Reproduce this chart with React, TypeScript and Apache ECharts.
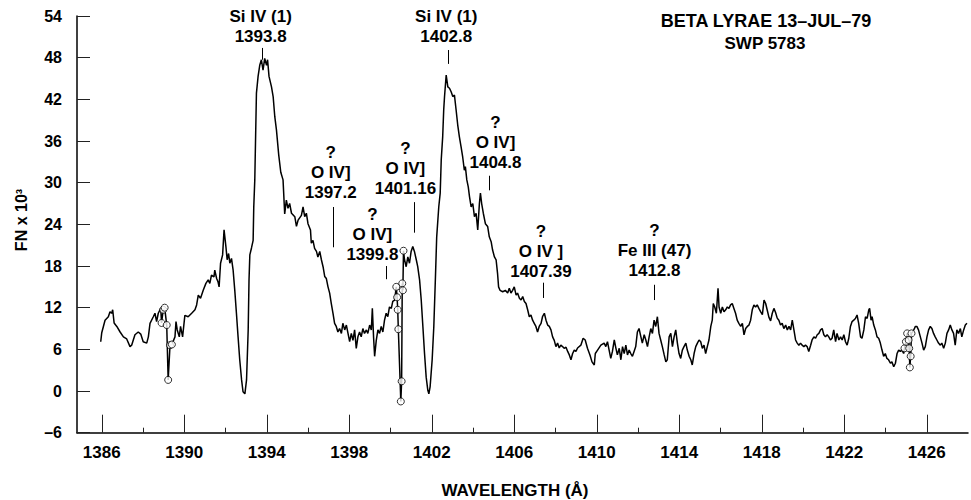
import React, { useEffect, useRef } from "react";
import * as echarts from "echarts";

// Wavelength (Å) and flux (FN x 10^3)
const wavelength = [
  1385.95, 1386.0, 1386.16, 1386.32, 1386.4, 1386.48, 1386.53, 1386.6, 1386.73, 1386.89,
  1387.05, 1387.21, 1387.37, 1387.45, 1387.61, 1387.77, 1387.89, 1388.01, 1388.18, 1388.26,
  1388.34, 1388.5, 1388.58, 1388.66, 1388.74, 1388.86, 1388.9, 1388.98, 1389.05, 1389.15,
  1389.22, 1389.31, 1389.4, 1389.55, 1389.6, 1389.66, 1389.76, 1389.82, 1389.92, 1390.03,
  1390.19, 1390.36, 1390.52, 1390.6, 1390.68, 1390.79, 1390.92, 1391.05, 1391.16, 1391.24,
  1391.32, 1391.44, 1391.48, 1391.57, 1391.64, 1391.69, 1391.76, 1391.86, 1391.93, 1392.02,
  1392.08, 1392.15, 1392.21, 1392.29, 1392.37, 1392.45, 1392.53, 1392.61, 1392.69, 1392.78,
  1392.85, 1392.94, 1393.02, 1393.1, 1393.14, 1393.18, 1393.26, 1393.34, 1393.37, 1393.42,
  1393.5, 1393.58, 1393.66, 1393.74, 1393.82, 1393.9, 1393.99, 1394.04, 1394.11, 1394.23,
  1394.31, 1394.39, 1394.47, 1394.58, 1394.68, 1394.79, 1394.87, 1394.95, 1395.03, 1395.11,
  1395.2, 1395.36, 1395.44, 1395.52, 1395.68, 1395.76, 1395.84, 1395.92, 1396.0, 1396.12,
  1396.16, 1396.24, 1396.32, 1396.41, 1396.48, 1396.57, 1396.65, 1396.73, 1396.81, 1396.89,
  1396.97, 1397.05, 1397.13, 1397.21, 1397.29, 1397.37, 1397.45, 1397.53, 1397.62, 1397.69,
  1397.78, 1397.86, 1397.94, 1398.02, 1398.1, 1398.18, 1398.26, 1398.34, 1398.42, 1398.5,
  1398.58, 1398.66, 1398.74, 1398.83, 1398.9, 1398.99, 1399.07, 1399.12, 1399.18, 1399.23,
  1399.31, 1399.39, 1399.47, 1399.55, 1399.63, 1399.71, 1399.79, 1399.87, 1399.95, 1400.04,
  1400.11, 1400.2, 1400.28, 1400.32, 1400.35, 1400.38, 1400.5, 1400.54, 1400.57, 1400.6,
  1400.63, 1400.68, 1400.76, 1400.84, 1400.92, 1401.0, 1401.08, 1401.16, 1401.25, 1401.32,
  1401.41, 1401.49, 1401.57, 1401.65, 1401.73, 1401.81, 1401.86, 1401.92, 1402.02, 1402.1,
  1402.18, 1402.24, 1402.34, 1402.41, 1402.46, 1402.53, 1402.58, 1402.62, 1402.7, 1402.78,
  1402.86, 1402.94, 1403.02, 1403.1, 1403.18, 1403.26, 1403.34, 1403.42, 1403.5, 1403.58,
  1403.63, 1403.7, 1403.77, 1403.83, 1403.91, 1403.99, 1404.07, 1404.15, 1404.23, 1404.31,
  1404.36, 1404.42, 1404.5, 1404.6, 1404.71, 1404.79, 1404.88, 1404.95, 1405.04, 1405.12,
  1405.19, 1405.24, 1405.31, 1405.44, 1405.57, 1405.68, 1405.76, 1405.84, 1405.92, 1406.0,
  1406.09, 1406.16, 1406.25, 1406.33, 1406.41, 1406.49, 1406.57, 1406.65, 1406.73, 1406.81,
  1406.89, 1406.97, 1407.05, 1407.13, 1407.21, 1407.3, 1407.37, 1407.46, 1407.54, 1407.62,
  1407.7, 1407.78, 1407.86, 1407.94, 1408.02, 1408.1, 1408.18, 1408.26, 1408.34, 1408.42,
  1408.51, 1408.59, 1408.67, 1408.75, 1408.83, 1408.91, 1408.99, 1409.07, 1409.23, 1409.34,
  1409.44, 1409.55, 1409.67, 1409.77, 1409.88, 1409.93, 1410.04, 1410.2, 1410.36, 1410.44,
  1410.52, 1410.6, 1410.68, 1410.76, 1410.85, 1410.93, 1411.0, 1411.09, 1411.17, 1411.25,
  1411.33, 1411.41, 1411.49, 1411.57, 1411.65, 1411.73, 1411.81, 1411.89, 1411.97, 1412.05,
  1412.14, 1412.21, 1412.3, 1412.38, 1412.46, 1412.54, 1412.62, 1412.7, 1412.78, 1412.86,
  1412.94, 1413.02, 1413.1, 1413.18, 1413.27, 1413.35, 1413.42, 1413.51, 1413.59, 1413.67,
  1413.75, 1413.83, 1413.91, 1413.99, 1414.07, 1414.15, 1414.23, 1414.32, 1414.39, 1414.48,
  1414.56, 1414.63, 1414.72, 1414.8, 1414.88, 1414.96, 1415.04, 1415.12, 1415.2, 1415.28,
  1415.36, 1415.44, 1415.53, 1415.6, 1415.65, 1415.72, 1415.8, 1415.88, 1415.93, 1416.01,
  1416.09, 1416.17, 1416.25, 1416.33, 1416.41, 1416.49, 1416.57, 1416.65, 1416.73, 1416.81,
  1416.89, 1416.98, 1417.06, 1417.14, 1417.22, 1417.3, 1417.38, 1417.46, 1417.54, 1417.62,
  1417.7, 1417.78, 1417.86, 1417.95, 1418.03, 1418.11, 1418.19, 1418.27, 1418.35, 1418.43,
  1418.51, 1418.59, 1418.67, 1418.75, 1418.83, 1418.91, 1418.99, 1419.07, 1419.16, 1419.24,
  1419.32, 1419.4, 1419.48, 1419.56, 1419.64, 1419.72, 1419.8, 1419.88, 1419.96, 1420.04,
  1420.12, 1420.2, 1420.28, 1420.37, 1420.44, 1420.53, 1420.61, 1420.69, 1420.77, 1420.85,
  1420.93, 1421.01, 1421.09, 1421.17, 1421.25, 1421.33, 1421.41, 1421.49, 1421.58, 1421.65,
  1421.74, 1421.82, 1421.9, 1421.98, 1422.06, 1422.14, 1422.22, 1422.3, 1422.38, 1422.46,
  1422.54, 1422.62, 1422.7, 1422.79, 1422.86, 1422.95, 1423.03, 1423.11, 1423.19, 1423.23,
  1423.3, 1423.35, 1423.43, 1423.51, 1423.59, 1423.67, 1423.75, 1423.83, 1423.91, 1423.99,
  1424.07, 1424.15, 1424.24, 1424.31, 1424.4, 1424.48, 1424.56, 1424.64, 1424.72, 1424.8,
  1424.88, 1424.92, 1424.99, 1425.05, 1425.12, 1425.15, 1425.18, 1425.22, 1425.26, 1425.34,
  1425.45, 1425.52, 1425.6, 1425.69, 1425.77, 1425.85, 1425.93, 1426.01, 1426.09, 1426.17,
  1426.25, 1426.33, 1426.41, 1426.49, 1426.57, 1426.66, 1426.73, 1426.82, 1426.9, 1426.98,
  1427.06, 1427.14, 1427.22, 1427.3, 1427.38, 1427.46, 1427.54, 1427.63, 1427.7, 1427.79,
  1427.87, 1427.95,
];

const flux = [
  7.1, 8.4, 10.2, 10.7, 11.4, 11.2, 11.7, 9.8, 9.3, 8.5,
  7.8, 7.5, 6.4, 6.6, 8.1, 8.5, 8.2, 7.1, 6.9, 7.8,
  9.75, 10.7, 11.2, 10.0, 11.2, 11.9, 9.8, 11.7, 12.0, 9.5,
  1.6, 6.6, 6.7, 7.8, 10.0, 8.8, 7.8, 9.3, 7.8, 10.9,
  10.7, 11.2, 11.7, 12.4, 13.8, 13.35, 14.5, 15.5, 16.0, 15.5,
  16.7, 16.45, 17.4, 16.2, 15.7, 15.0, 18.4, 19.6, 23.2, 20.8,
  18.9, 19.8, 18.4, 19.1, 17.4, 14.5, 11.2, 7.8, 4.5, 1.6,
  -0.1, -0.4, 1.6, 8.8, 16.0, 19.6, 20.6, 21.7, 26.5, 30.4,
  42.9, 45.3, 46.9, 47.7, 46.2, 47.9, 46.9, 47.7, 45.3, 43.8,
  42.4, 39.5, 37.6, 34.0, 31.5, 30.4, 25.5, 27.5, 26.3, 27.0,
  25.6, 25.1, 23.7, 24.6, 25.3, 26.5, 25.1, 25.6, 24.1, 23.2,
  21.3, 21.7, 20.55, 20.1, 19.3, 20.1, 18.9, 17.9, 16.5, 16.2,
  15.0, 14.1, 12.6, 11.2, 9.75, 9.3, 8.5, 9.0, 8.3, 9.75,
  8.8, 9.5, 8.3, 7.1, 8.3, 7.3, 8.8, 6.15, 7.8, 8.5,
  7.8, 9.0, 8.3, 8.8, 8.3, 9.5, 8.8, 11.9, 7.7, 5.0,
  7.3, 8.8, 8.3, 9.3, 8.5, 10.2, 11.2, 10.7, 12.1, 11.9,
  12.9, 13.1, 15.0, 13.5, 11.7, 8.9, -1.5, 1.4, 15.5, 14.5,
  20.2, 18.9, 17.9, 19.3, 18.4, 20.1, 20.8, 20.1, 18.9, 17.9,
  16.0, 13.1, 9.3, 5.4, 2.0, 0.1, -0.4, 0.6, 4.5, 9.3,
  16.5, 22.2, 26.5, 28.5, 33.3, 36.6, 40.5, 42.4, 45.5, 43.8,
  43.6, 43.1, 42.4, 42.6, 40.5, 38.3, 36.6, 35.2, 33.7, 31.8,
  32.3, 30.4, 29.4, 28.0, 26.5, 27.0, 25.1, 25.6, 23.2, 27.0,
  28.5, 27.0, 25.6, 24.1, 23.7, 22.2, 21.5, 20.3, 19.3, 18.9,
  16.95, 15.0, 14.5, 14.3, 14.5, 14.1, 14.8, 14.1, 14.5, 15.0,
  13.8, 14.1, 13.35, 13.1, 13.6, 12.9, 12.6, 11.7, 10.7, 10.95,
  10.2, 9.75, 9.3, 8.5, 9.3, 9.75, 10.7, 11.2, 10.2, 9.5,
  9.3, 8.8, 7.8, 7.3, 6.4, 6.9, 6.2, 6.6, 6.4, 6.15,
  6.3, 5.7, 5.2, 4.5, 5.4, 5.9, 5.7, 6.2, 6.6, 7.6,
  7.35, 6.15, 5.2, 4.2, 3.75, 5.4, 5.9, 6.6, 6.9, 6.4,
  7.1, 5.9, 4.7, 5.7, 7.35, 6.15, 5.2, 6.15, 4.5, 6.4,
  5.4, 6.6, 5.2, 5.9, 5.4, 5.0, 5.7, 6.4, 8.5, 9.0,
  7.8, 6.9, 8.1, 7.35, 6.4, 7.8, 9.0, 8.3, 10.2, 9.3,
  10.7, 8.3, 7.35, 6.4, 5.2, 4.2, 4.5, 7.8, 8.3, 6.4,
  7.8, 8.8, 6.9, 5.4, 4.7, 5.9, 6.4, 6.9, 5.9, 5.0,
  4.5, 3.75, 5.4, 6.4, 6.9, 7.35, 7.1, 6.15, 6.6, 5.4,
  6.4, 7.35, 9.3, 10.2, 12.6, 12.1, 11.2, 14.8, 12.1, 11.2,
  12.1, 11.4, 11.7, 12.1, 11.9, 12.4, 12.6, 11.9, 11.2, 10.2,
  9.75, 9.3, 9.75, 8.1, 9.0, 9.3, 9.5, 10.2, 11.7, 12.4,
  12.1, 12.4, 11.9, 11.4, 11.0, 13.1, 12.6, 11.6, 10.6, 10.1,
  11.2, 11.9, 11.3, 10.5, 10.2, 9.5, 9.75, 9.0, 9.5, 8.8,
  9.3, 8.8, 10.2, 8.8, 7.35, 6.9, 6.6, 6.9, 6.6, 6.4,
  6.6, 6.4, 5.7, 6.6, 7.35, 7.8, 7.6, 8.1, 8.3, 8.8,
  9.0, 8.1, 7.8, 8.1, 7.8, 7.35, 7.6, 8.8, 7.1, 8.3,
  7.35, 7.8, 7.35, 8.1, 7.1, 6.6, 7.6, 9.3, 10.0, 10.2,
  10.45, 10.95, 9.75, 7.8, 7.6, 8.8, 10.7, 10.45, 11.7, 11.9,
  10.2, 10.7, 9.5, 8.8, 7.8, 7.6, 6.9, 5.9, 5.0, 5.4,
  4.7, 4.5, 4.0, 4.2, 3.5, 4.0, 5.4, 5.9, 5.7, 5.9,
  5.4, 6.15, 7.1, 8.3, 7.35, 6.15, 3.4, 5.0, 8.3, 8.6,
  9.3, 9.3, 8.8, 7.8, 6.9, 5.9, 6.4, 7.8, 8.8, 9.3,
  9.0, 8.3, 7.8, 7.35, 6.9, 6.6, 6.9, 6.15, 6.9, 8.3,
  8.8, 9.5, 8.8, 8.3, 6.6, 8.8, 8.3, 9.0, 7.8, 8.8,
  9.5, 9.75,
];

// Points marked with open circles in the reference
const flaggedWavelength = [
  1388.9, 1388.98, 1389.05, 1389.15, 1389.22, 1389.31, 1389.4,
  1400.28, 1400.32, 1400.35, 1400.38, 1400.5, 1400.54, 1400.57, 1400.6, 1400.63,
  1424.92, 1424.99, 1425.05, 1425.12, 1425.15, 1425.18, 1425.22, 1425.26,
];

// Line identifications
const lineIdWavelength = [1393.8, 1402.8, 1397.2, 1401.16, 1399.8, 1404.8, 1407.39, 1412.8];
const lineIdText = [
  ["Si IV (1)", "1393.8"],
  ["Si IV (1)", "1402.8"],
  ["?", "O IV]", "1397.2"],
  ["?", "O IV]", "1401.16"],
  ["?", "O IV]", "1399.8"],
  ["?", "O IV]", "1404.8"],
  ["?", "O IV ]", "1407.39"],
  ["?", "Fe III (47)", "1412.8"],
];

const xMajorTicks = [1386, 1390, 1394, 1398, 1402, 1406, 1410, 1414, 1418, 1422, 1426];
const xMinorTicks = [1388, 1392, 1396, 1400, 1404, 1408, 1412, 1416, 1420, 1424];

// layout of the identification marks (in flux units / pixel offsets)
const idTickTop = [49.4, 49.1, 26.5, 27.2, 18.0, 31.0, 15.6, 15.3];
const idTickBottom = [47.7, 47.1, 20.7, 22.8, 16.1, 28.9, 13.4, 13.1];
const idTextCenter = [52.5, 52.5, 31.5, 32.1, 22.5, 35.8, 20.1, 20.2];
const idTextDx = [-2, -2, -2, -9, -14, 6, -2, 0];

const FONT = '"Liberation Sans", Arial, Helvetica, sans-serif';

export default function App() {
  const ref = useRef<HTMLDivElement>(null);

  useEffect(() => {
    document.body.style.margin = "0";
    if (!ref.current) return;
    const chart = echarts.init(ref.current, undefined, { renderer: "svg" });

    const lineData = wavelength.map((w, i) => [w, flux[i]]);
    const flaggedData = flaggedWavelength.map((w) => {
      const i = wavelength.indexOf(w);
      return [w, flux[i]];
    });

    const option: any = {
      animation: false,
      backgroundColor: "#fff",
      grid: { left: 77, right: 3, top: 16, bottom: 67.3, containLabel: false },
      xAxis: [
        {
          type: "value",
          min: 1384.8,
          max: 1428,
          position: "bottom",
          axisLine: { show: true, onZero: false, lineStyle: { color: "#000", width: 1.5 } },
          axisTick: {
            show: true,
            inside: true,
            length: 18,
            customValues: xMajorTicks,
            lineStyle: { color: "#222", width: 1 },
          },
          axisLabel: {
            show: true,
            customValues: xMajorTicks,
            formatter: (v: number) => String(Math.round(v)),
            margin: 11,
            color: "#000",
            fontFamily: FONT,
            fontWeight: "bold",
            fontSize: 17,
          },
          splitLine: { show: false },
        },
        {
          type: "value",
          min: 1384.8,
          max: 1428,
          position: "bottom",
          axisLine: { show: false, onZero: false },
          axisTick: {
            show: true,
            inside: true,
            length: 5,
            customValues: xMinorTicks,
            lineStyle: { color: "#222", width: 1 },
          },
          axisLabel: { show: false },
          splitLine: { show: false },
        },
      ],
      yAxis: {
        type: "value",
        min: -6,
        max: 54,
        interval: 6,
        axisLine: { show: true, onZero: false, lineStyle: { color: "#000", width: 1.5 } },
        axisTick: { show: true, inside: true, length: 13, lineStyle: { color: "#222", width: 1 } },
        axisLabel: {
          margin: 15,
          color: "#000",
          fontFamily: FONT,
          fontWeight: "bold",
          fontSize: 16,
          formatter: (v: number) => (v < 0 ? "–" + Math.abs(v) : String(v)),
        },
        splitLine: { show: false },
      },
      series: [
        {
          type: "line",
          data: lineData,
          showSymbol: false,
          symbol: "none",
          lineStyle: { color: "#000", width: 1.5 },
          z: 2,
          markLine: {
            silent: true,
            symbol: "none",
            label: { show: false },
            lineStyle: { color: "#000", width: 1, type: "solid" },
            data: lineIdWavelength.map((w, i) => [
              { coord: [w, idTickTop[i]] },
              { coord: [w, idTickBottom[i]] },
            ]),
          },
        },
        {
          type: "scatter",
          data: flaggedData,
          symbol: "circle",
          symbolSize: 7,
          itemStyle: { color: "#fff", borderColor: "#000", borderWidth: 1 },
          z: 3,
          silent: true,
        },
        {
          type: "scatter",
          silent: true,
          symbolSize: 0.1,
          itemStyle: { color: "#000", opacity: 1 },
          z: 4,
          data: lineIdWavelength.map((w, i) => ({
            value: [w, idTextCenter[i]],
            label: {
              show: true,
              position: "inside",
              formatter: lineIdText[i].join("\n"),
              offset: [idTextDx[i], 0],
              color: "#000",
              opacity: 1,
              fontFamily: FONT,
              fontWeight: "bold",
              fontSize: 17,
              lineHeight: 20,
              align: "center",
              verticalAlign: "middle",
            },
          })),
        },
      ],
      graphic: [
        {
          type: "text",
          x: 766,
          y: 21,
          style: {
            text: "BETA LYRAE 13–JUL–79",
            fill: "#000",
            font: `bold 18px ${FONT}`,
            textAlign: "center",
            textVerticalAlign: "middle",
          },
        },
        {
          type: "text",
          x: 765,
          y: 43,
          style: {
            text: "SWP 5783",
            fill: "#000",
            font: `bold 17px ${FONT}`,
            textAlign: "center",
            textVerticalAlign: "middle",
          },
        },
        {
          type: "text",
          x: 515,
          y: 490,
          style: {
            text: "WAVELENGTH (Å)",
            fill: "#000",
            font: `bold 17px ${FONT}`,
            textAlign: "center",
            textVerticalAlign: "middle",
          },
        },
        {
          type: "text",
          x: 21,
          y: 220,
          rotation: Math.PI / 2,
          style: {
            text: "FN x 10³",
            fill: "#000",
            font: `bold 16px ${FONT}`,
            textAlign: "center",
            textVerticalAlign: "middle",
          },
        },
      ],
    };

    chart.setOption(option);
    return () => {
      chart.dispose();
    };
  }, []);

  return <div ref={ref} style={{ width: 971, height: 500 }} />;
}
